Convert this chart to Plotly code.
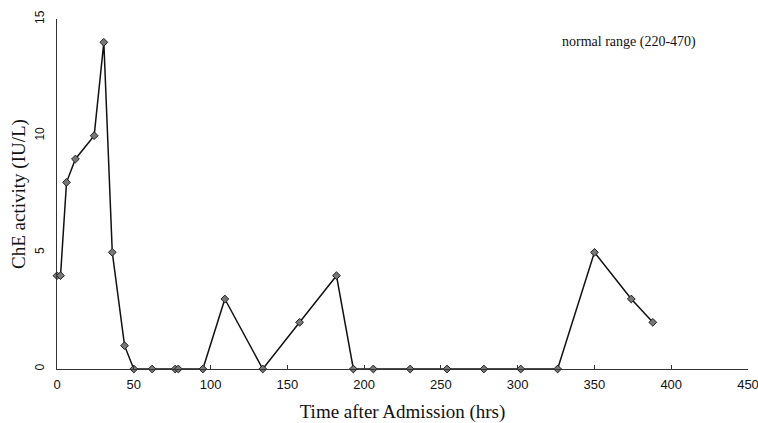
import plotly.graph_objects as go

hours = [0, 2.3, 6.2, 12, 24.2, 30.5, 36, 44, 50, 62, 77, 79, 95, 109.3, 134, 158, 182, 193, 206, 230, 254, 278, 302, 326, 350, 374, 388]
che = [4, 4, 8, 9, 10, 14, 5, 1, 0, 0, 0, 0, 0, 3, 0, 2, 4, 0, 0, 0, 0, 0, 0, 0, 5, 3, 2]
x_ticks = [0, 50, 100, 150, 200, 250, 300, 350, 400, 450]
y_ticks = [0, 5, 10, 15]

fig = go.Figure()
fig.add_trace(go.Scatter(
    x=hours, y=che, mode="lines+markers",
    line=dict(color="#111111", width=1.5),
    marker=dict(symbol="diamond", size=6, color="#777777", line=dict(color="#222222", width=1)),
    cliponaxis=False, showlegend=False,
))
fig.add_annotation(x=0.928, y=0.935, xref="paper", yref="paper", text="normal range (220-470)",
                   showarrow=False, xanchor="right", yanchor="middle",
                   font=dict(family="Liberation Serif", size=14, color="#111111"))
fig.update_layout(
    width=758, height=423, plot_bgcolor="white", paper_bgcolor="white",
    margin=dict(l=57, r=10, t=19, b=54),
    xaxis=dict(range=[0, 450], tickvals=x_ticks, showgrid=False, zeroline=False,
               automargin=False,
               showline=True, linecolor="#333333", linewidth=1,
               ticks="inside", ticklen=4, tickcolor="#333333",
               ticklabeloverflow="allow", ticklabelstandoff=3,
               tickfont=dict(family="Liberation Sans", size=13, color="#111111"),
               title=dict(text="Time after Admission (hrs)", standoff=16,
                          font=dict(family="Liberation Serif", size=19, color="#111111"))),
    yaxis=dict(range=[0, 15], tickvals=y_ticks, showgrid=False, zeroline=False,
               automargin=False,
               showline=True, linecolor="#333333", linewidth=1,
               ticks="outside", ticklen=7, tickcolor="white", tickangle=-90,
               tickfont=dict(family="Liberation Sans", size=12, color="#111111"),
               title=dict(text="ChE activity (IU/L)", standoff=2,
                          font=dict(family="Liberation Serif", size=19, color="#111111"))),
)
fig.write_html("out.html")
